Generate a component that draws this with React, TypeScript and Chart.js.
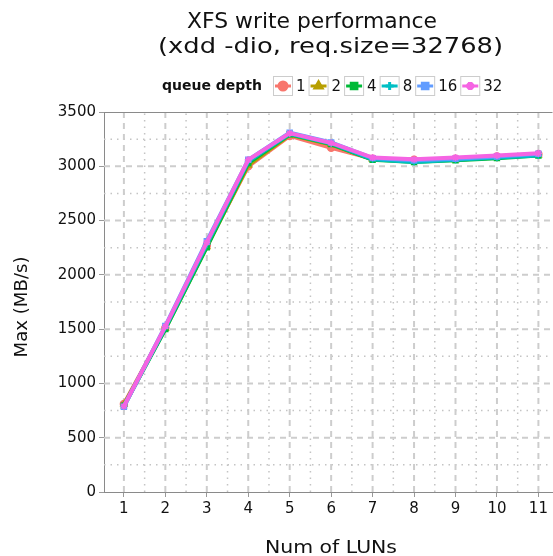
import React, { useEffect, useRef } from 'react';
import { Chart, registerables } from 'chart.js';
import { drawPoint } from 'chart.js/helpers';

Chart.register(...registerables);

const luns = [1, 2, 3, 4, 5, 6, 7, 8, 9, 10, 11];
const depthLabels = ['1', '2', '4', '8', '16', '32'];
const qd1 = [810, 1510, 2270, 3000, 3280, 3170, 3070, 3060, 3070, 3090, 3110];
const qd2 = [805, 1505, 2260, 3010, 3290, 3200, 3065, 3050, 3060, 3080, 3105];
const qd4 = [795, 1500, 2255, 3030, 3295, 3205, 3060, 3040, 3055, 3075, 3100];
const qd8 = [790, 1515, 2280, 3045, 3300, 3210, 3065, 3040, 3060, 3080, 3100];
const qd16 = [785, 1530, 2310, 3060, 3310, 3220, 3075, 3055, 3070, 3090, 3115];
const qd32 = [790, 1525, 2300, 3060, 3305, 3215, 3080, 3065, 3080, 3100, 3120];
const series = [qd1, qd2, qd4, qd8, qd16, qd32];
const colors = ['#F8766D', '#B79F00', '#00BA38', '#00BFC4', '#619CFF', '#F564E3'];
const pointStyles = ['circle', 'triangle', 'rect', 'cross', 'rect', 'star'];
const yTicks = [0, 500, 1000, 1500, 2000, 2500, 3000, 3500];

const titleLines = ['XFS write performance', '(xdd -dio, req.size=32768)'];
const legendTitle = 'queue depth';
const xTitle = 'Num of LUNs';
const yTitle = 'Max (MB/s)';
const FONT = "'DejaVu Sans', sans-serif";

const POINT_R = 3.5;
const POINT_BW = 1.5;
const OVERFLOW = POINT_R + POINT_BW; // Chart.js reserves this on the right side
const W = 553;
const H = 556;

function fillStretched(ctx: any, text: string, cx: number, baseline: number, targetW: number) {
  const w = ctx.measureText(text).width;
  const sx = targetW / w;
  ctx.save();
  ctx.translate(cx, baseline);
  ctx.scale(sx, 1);
  ctx.textAlign = 'center';
  ctx.textBaseline = 'alphabetic';
  ctx.fillText(text, 0, 0);
  ctx.restore();
}

const gridPlugin = {
  id: 'customGrid',
  beforeDatasetsDraw(chart: any) {
    const { ctx, chartArea } = chart;
    const xs = chart.scales.x;
    const ys = chart.scales.y;
    ctx.save();
    ctx.beginPath();
    ctx.rect(chartArea.left, chartArea.top, chartArea.right - chartArea.left, chartArea.bottom - chartArea.top);
    ctx.clip();
    ctx.strokeStyle = '#c4c4c4';
    ctx.lineWidth = 1.5;
    ctx.setLineDash([1.5, 5]);
    for (let v = 0.5; v <= 11.5; v += 1) {
      const px = xs.getPixelForValue(v);
      if (px <= chartArea.left + 1 || px >= chartArea.right) continue;
      ctx.beginPath();
      ctx.moveTo(px, chartArea.bottom);
      ctx.lineTo(px, chartArea.top);
      ctx.stroke();
    }
    for (let v = 250; v < 3500; v += 500) {
      const py = ys.getPixelForValue(v);
      ctx.beginPath();
      ctx.moveTo(chartArea.left, py);
      ctx.lineTo(chartArea.right, py);
      ctx.stroke();
    }
    ctx.strokeStyle = '#cdcdcd';
    ctx.lineWidth = 2;
    ctx.setLineDash([6, 5]);
    luns.forEach((v) => {
      const px = xs.getPixelForValue(v);
      ctx.beginPath();
      ctx.moveTo(px, chartArea.bottom);
      ctx.lineTo(px, chartArea.top);
      ctx.stroke();
    });
    yTicks.forEach((v) => {
      if (v === 0 || v === 3500) return;
      const py = ys.getPixelForValue(v);
      ctx.beginPath();
      ctx.moveTo(chartArea.left, py);
      ctx.lineTo(chartArea.right, py);
      ctx.stroke();
    });
    ctx.restore();
    ctx.save();
    ctx.strokeStyle = '#8a8a8a';
    ctx.lineWidth = 1;
    ctx.beginPath();
    ctx.moveTo(chartArea.left, chartArea.top + 0.5);
    ctx.lineTo(chartArea.right, chartArea.top + 0.5);
    ctx.stroke();
    ctx.restore();
  },
};

const titleLegendPlugin = {
  id: 'titleLegend',
  afterDraw(chart: any) {
    const { ctx, chartArea } = chart;
    ctx.save();
    ctx.fillStyle = '#111';
    ctx.font = `21px ${FONT}`;
    fillStretched(ctx, titleLines[0], 312, 28, 250);
    fillStretched(ctx, titleLines[1], 330.5, 53, 345);

    ctx.font = `18px ${FONT}`;
    fillStretched(ctx, xTitle, 331, 553, 132);
    ctx.save();
    ctx.translate(27, (chartArea.top + chartArea.bottom) / 2 + 5);
    ctx.rotate(-Math.PI / 2);
    fillStretched(ctx, yTitle, 0, 0, 101);
    ctx.restore();

    const cy = 86;
    ctx.font = `bold 14px ${FONT}`;
    ctx.textAlign = 'left';
    ctx.textBaseline = 'middle';
    ctx.fillText(legendTitle, 162, cy);
    let x = 273;
    ctx.font = `15px ${FONT}`;
    chart.data.datasets.forEach((ds: any) => {
      const bw = 19;
      ctx.fillStyle = '#fff';
      ctx.fillRect(x, cy - 10, bw, 20);
      ctx.strokeStyle = '#cccccc';
      ctx.lineWidth = 1;
      ctx.setLineDash([]);
      ctx.strokeRect(x + 0.5, cy - 9.5, bw, 19);
      ctx.strokeStyle = ds.borderColor;
      ctx.lineWidth = 3;
      ctx.beginPath();
      ctx.moveTo(x + 2, cy);
      ctx.lineTo(x + bw - 1, cy);
      ctx.stroke();
      ctx.fillStyle = ds.borderColor;
      ctx.strokeStyle = ds.borderColor;
      drawPoint(ctx, { pointStyle: ds.pointStyle, radius: 4, rotation: 0, borderWidth: 1.5 }, x + bw / 2 + 0.5, cy);
      x += bw + 4;
      ctx.fillStyle = '#111';
      ctx.fillText(ds.label, x, cy + 1);
      x += ctx.measureText(ds.label).width + 3;
    });
    ctx.restore();
  },
};

export default function App() {
  const canvasRef = useRef<HTMLCanvasElement | null>(null);

  useEffect(() => {
    if (!canvasRef.current) return;
    Chart.defaults.font.family = FONT;
    Chart.defaults.color = '#111';
    const chart = new Chart(canvasRef.current, {
      type: 'line',
      data: {
        datasets: series.map((vals, i) => ({
          label: depthLabels[i],
          data: luns.map((l, j) => ({ x: l, y: vals[j] })),
          borderColor: colors[i],
          backgroundColor: colors[i],
          pointBackgroundColor: colors[i],
          pointBorderColor: colors[i],
          pointStyle: pointStyles[i] as any,
          pointRadius: POINT_R,
          pointBorderWidth: POINT_BW,
          borderWidth: 4,
          tension: 0,
          fill: false,
          order: series.length - i,
        })),
      },
      options: {
        responsive: false,
        animation: false,
        events: [],
        layout: { padding: { top: 112, left: 0, right: 0, bottom: 0 } },
        plugins: {
          legend: { display: false },
          title: { display: false },
          tooltip: { enabled: false },
        },
        scales: {
          x: {
            type: 'linear',
            min: 0.52,
            max: 11.34,
            afterFit: (s: any) => { s.height = 64; s.paddingLeft = 0; s.paddingRight = 0; },
            afterBuildTicks: (s: any) => { s.ticks = luns.map((v) => ({ value: v })); },
            ticks: { stepSize: 1, includeBounds: false, font: { size: 15 }, padding: 3, color: '#111', maxRotation: 0, callback: (v: any) => String(v) },
            grid: { drawOnChartArea: false, drawTicks: true, tickLength: 5, tickColor: '#999', tickWidth: 1 },
            border: { color: '#8a8a8a', width: 1 },
          },
          y: {
            type: 'linear',
            min: 0,
            max: 3500,
            afterFit: (s: any) => { s.width = 104; s.paddingTop = 0; s.paddingBottom = 0; },
            afterBuildTicks: (s: any) => { s.ticks = yTicks.map((v) => ({ value: v })); },
            ticks: { stepSize: 500, font: { size: 15 }, padding: 3, color: '#111', callback: (v: any) => String(v) },
            grid: { drawOnChartArea: false, drawTicks: true, tickLength: 5, tickColor: '#999', tickWidth: 1 },
            border: { color: '#8a8a8a', width: 1 },
          },
        },
      },
      plugins: [gridPlugin, titleLegendPlugin],
    });
    return () => chart.destroy();
  }, []);

  return (
    <div style={{ position: 'absolute', left: 0, top: 0, width: W, height: H, overflow: 'hidden', background: '#fff' }}>
      <canvas ref={canvasRef} width={W + OVERFLOW} height={H} style={{ display: 'block' }} />
    </div>
  );
}
